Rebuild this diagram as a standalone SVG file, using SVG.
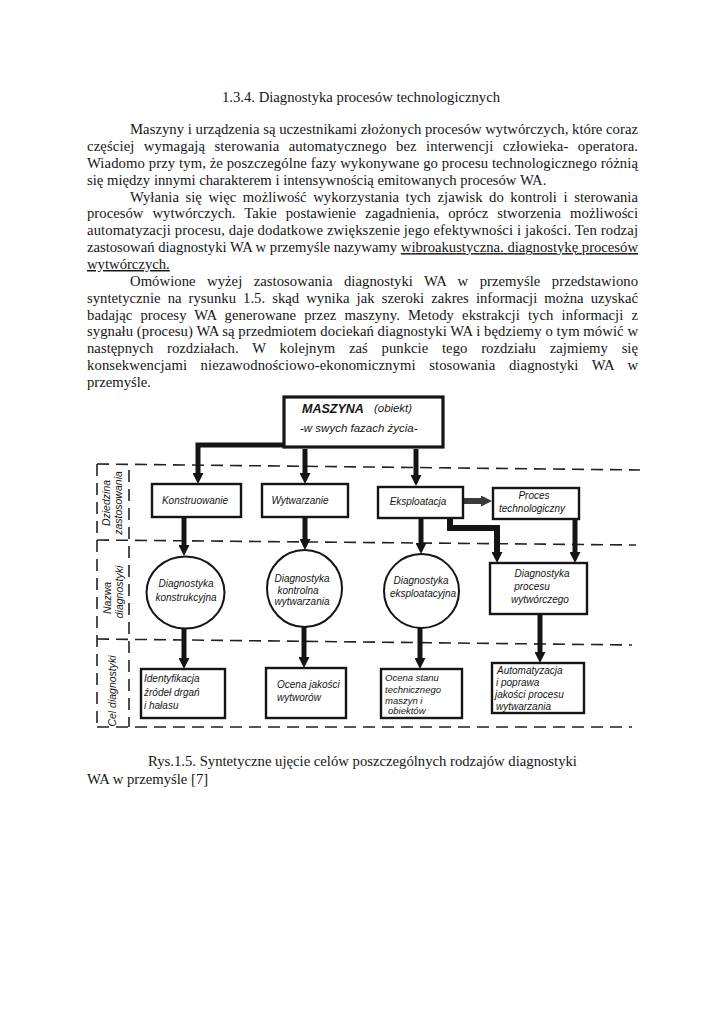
<svg xmlns="http://www.w3.org/2000/svg" width="724" height="1024" viewBox="0 0 724 1024">
<defs>
<style>
.p{font-family:"Liberation Serif","Times New Roman",serif;font-size:14.7px;fill:#151515}
.h{font-family:"Liberation Sans",Arial,sans-serif;font-style:italic;font-size:10px;fill:#151515}
.bx{fill:#fff;stroke:#151515;stroke-width:2.4}
.ci{fill:#fff;stroke:#151515;stroke-width:2}
.c{fill:none;stroke:#151515;stroke-width:5;marker-end:url(#ah)}
.dash{fill:none;stroke:#222;stroke-width:1.6;stroke-dasharray:12 7}
</style>
<marker id="ah" markerUnits="userSpaceOnUse" markerWidth="11" markerHeight="11" viewBox="0 0 11 11" refX="2" refY="5.5" orient="auto">
<path d="M0,0 L11,5.5 L0,11 z" fill="#151515"/>
</marker>
<marker id="ahg" markerUnits="userSpaceOnUse" markerWidth="11" markerHeight="11" viewBox="0 0 11 11" refX="2" refY="5.5" orient="auto">
<path d="M0,0 L11,5.5 L0,11 z" fill="#3a3a3a"/>
</marker>
</defs>
<rect width="724" height="1024" fill="#fff"/>

<g id="body-text">
<text class="p" x="361" y="102" text-anchor="middle">1.3.4. Diagnostyka procesów technologicznych</text>
<text class="p" x="130" y="134" textLength="508" lengthAdjust="spacing">Maszyny i urządzenia są uczestnikami złożonych procesów wytwórczych, które coraz</text>
<text class="p" x="87" y="150.9" word-spacing="5.5" textLength="551" lengthAdjust="spacing">częściej wymagają sterowania automatycznego bez interwencji człowieka- operatora.</text>
<text class="p" x="87" y="167.7" textLength="551" lengthAdjust="spacing">Wiadomo przy tym, że poszczególne fazy wykonywane go procesu technologicznego różnią</text>
<text class="p" x="87" y="184.6">się między innymi charakterem i intensywnością emitowanych procesów WA.</text>
<text class="p" x="130" y="201.5" word-spacing="2.9" textLength="508" lengthAdjust="spacing">Wyłania się więc możliwość wykorzystania tych zjawisk do kontroli i sterowania</text>
<text class="p" x="87" y="218.4" word-spacing="5.3" textLength="551" lengthAdjust="spacing">procesów wytwórczych. Takie postawienie zagadnienia, oprócz stworzenia możliwości</text>
<text class="p" x="87" y="235.2" textLength="551" lengthAdjust="spacing">automatyzacji procesu, daje dodatkowe zwiększenie jego efektywności i jakości. Ten rodzaj</text>
<text class="p" x="87" y="252.1" textLength="551" lengthAdjust="spacing">zastosowań diagnostyki WA w przemyśle nazywamy <tspan text-decoration="underline">wibroakustyczna. diagnostykę procesów</tspan></text>
<text class="p" x="87" y="269" text-decoration="underline">wytwórczych.</text>
<text class="p" x="130" y="285.8" word-spacing="7.7" textLength="508" lengthAdjust="spacing">Omówione wyżej zastosowania diagnostyki WA w przemyśle przedstawiono</text>
<text class="p" x="87" y="302.7" word-spacing="3.4" textLength="551" lengthAdjust="spacing">syntetycznie na rysunku 1.5. skąd wynika jak szeroki zakres informacji można uzyskać</text>
<text class="p" x="87" y="319.6" word-spacing="4.3" textLength="551" lengthAdjust="spacing">badając procesy WA generowane przez maszyny. Metody ekstrakcji tych informacji z</text>
<text class="p" x="87" y="336.4" textLength="551" lengthAdjust="spacing">sygnału (procesu) WA są przedmiotem dociekań diagnostyki WA i będziemy o tym mówić w</text>
<text class="p" x="87" y="353.3" word-spacing="10.1" textLength="551" lengthAdjust="spacing">następnych rozdziałach. W kolejnym zaś punkcie tego rozdziału zajmiemy się</text>
<text class="p" x="87" y="370.2" word-spacing="9.7" textLength="551" lengthAdjust="spacing">konsekwencjami niezawodnościowo-ekonomicznymi stosowania diagnostyki WA w</text>
<text class="p" x="87" y="387.1">przemyśle.</text>
</g>

<g id="frame">
<line class="dash" x1="97" y1="464" x2="640" y2="470"/>
<line class="dash" x1="97" y1="540" x2="636" y2="545"/>
<line class="dash" x1="97" y1="639" x2="632" y2="645"/>
<line class="dash" x1="97" y1="727" x2="632" y2="727"/>
<line class="dash" x1="97" y1="464" x2="97" y2="727"/>
<line class="dash" x1="129" y1="470" x2="129" y2="727"/>
</g>

<g id="row-labels">
<text class="h" style="font-size:10.5px" transform="translate(109.5,503) rotate(-90)" text-anchor="middle">Dziedzina</text>
<text class="h" style="font-size:10.5px" transform="translate(122,503) rotate(-90)" text-anchor="middle">zastosowania</text>
<text class="h" style="font-size:10.5px" transform="translate(110.5,598) rotate(-90)" text-anchor="middle">Nazwa</text>
<text class="h" style="font-size:10.5px" transform="translate(122.5,592) rotate(-90)" text-anchor="middle">diagnostyki</text>
<text class="h" style="font-size:10.5px" transform="translate(115.5,691) rotate(-90)" text-anchor="middle">Cel diagnostyki</text>
</g>

<g id="connectors">
<path class="c" d="M286,445 H198 V475"/>
<path class="c" d="M305,449 V475"/>
<path class="c" d="M416,449 V477"/>
<path class="c" d="M463,501 H483" style="stroke:#3a3a3a;stroke-width:6;marker-end:url(#ahg)"/>
<path class="c" d="M184,517 V547"/>
<path class="c" d="M305,517 V541"/>
<path class="c" d="M421,518 V545"/>
<path class="c" d="M450,518 V528 H497 V554" style="stroke-width:6"/>
<path class="c" d="M575,519 V554"/>
<path class="c" d="M184,628 V660"/>
<path class="c" d="M304,627 V659"/>
<path class="c" d="M420,628 V660"/>
<path class="c" d="M540,614 V654"/>
</g>

<g id="maszyna">
<rect class="bx" x="284" y="397" width="159" height="50" style="stroke-width:3.2"/>
<text class="h" x="302" y="413" style="font-size:12.5px;font-weight:bold">MASZYNA</text>
<text class="h" x="374" y="412" style="font-size:11.4px">(obiekt)</text>
<text class="h" x="300" y="432" style="font-size:11.5px">-w swych fazach życia-</text>
</g>

<g id="konstruowanie">
<rect class="bx" x="152" y="484" width="89" height="33"/>
<text class="h" x="195" y="504" text-anchor="middle">Konstruowanie</text>
</g>
<g id="wytwarzanie">
<rect class="bx" x="262" y="484" width="86" height="33"/>
<text class="h" x="300" y="504" text-anchor="middle">Wytwarzanie</text>
</g>
<g id="eksploatacja">
<rect class="bx" x="378" y="487" width="85" height="31"/>
<text class="h" x="418" y="505" text-anchor="middle">Eksploatacja</text>
</g>
<g id="proces-technologiczny">
<rect class="bx" x="493" y="488" width="86" height="31"/>
<text class="h" x="534" y="499" text-anchor="middle">Proces</text>
<text class="h" x="532" y="512" text-anchor="middle">technologiczny</text>
</g>

<g id="diag-konstrukcyjna">
<ellipse class="ci" cx="185.5" cy="592.5" rx="39" ry="36"/>
<text class="h" x="186" y="587" text-anchor="middle">Diagnostyka</text>
<text class="h" x="186" y="600.5" text-anchor="middle">konstrukcyjna</text>
</g>
<g id="diag-kontrolna">
<ellipse class="ci" cx="304.5" cy="588.5" rx="37.5" ry="38.5"/>
<text class="h" x="302" y="581.5" text-anchor="middle">Diagnostyka</text>
<text class="h" x="298" y="593.5" text-anchor="middle">kontrolna</text>
<text class="h" x="302" y="605" text-anchor="middle">wytwarzania</text>
</g>
<g id="diag-eksploatacyjna">
<ellipse class="ci" cx="421.5" cy="591" rx="37.5" ry="37"/>
<text class="h" x="421" y="583.5" text-anchor="middle">Diagnostyka</text>
<text class="h" x="423" y="596.5" text-anchor="middle">eksploatacyjna</text>
</g>
<g id="diag-procesu">
<rect class="bx" x="490" y="563" width="97" height="51"/>
<text class="h" x="542" y="576.5" text-anchor="middle">Diagnostyka</text>
<text class="h" x="532" y="590" text-anchor="middle">procesu</text>
<text class="h" x="540" y="602.5" text-anchor="middle">wytwórczego</text>
</g>

<g id="identyfikacja">
<rect class="bx" x="141" y="669" width="84" height="49"/>
<text class="h" x="144" y="681.5">Identyfikacja</text>
<text class="h" x="144" y="695.5">źródeł drgań</text>
<text class="h" x="144" y="708.5">i hałasu</text>
</g>
<g id="ocena-jakosci">
<rect class="bx" x="266" y="668" width="80" height="50"/>
<text class="h" x="277" y="687.5">Ocena jakości</text>
<text class="h" x="277" y="700.5">wytworów</text>
</g>
<g id="ocena-stanu">
<rect class="bx" x="381" y="669" width="81" height="49"/>
<text class="h" x="385" y="681" style="font-size:9.5px">Ocena stanu</text>
<text class="h" x="385" y="692.5" style="font-size:9.5px">technicznego</text>
<text class="h" x="385" y="703.5" style="font-size:9.5px">maszyn i</text>
<text class="h" x="388" y="714" style="font-size:9.5px">obiektów</text>
</g>
<g id="automatyzacja">
<rect class="bx" x="492" y="663" width="92" height="50"/>
<text class="h" x="497" y="673.5">Automatyzacja</text>
<text class="h" x="496" y="685.5">i poprawa</text>
<text class="h" x="495" y="697.5">jakości procesu</text>
<text class="h" x="496" y="710">wytwarzania</text>
</g>

<g id="caption">
<text class="p" x="148" y="766">Rys.1.5. Syntetyczne ujęcie celów poszczególnych rodzajów diagnostyki</text>
<text class="p" x="87" y="784">WA w przemyśle [7]</text>
</g>
</svg>
